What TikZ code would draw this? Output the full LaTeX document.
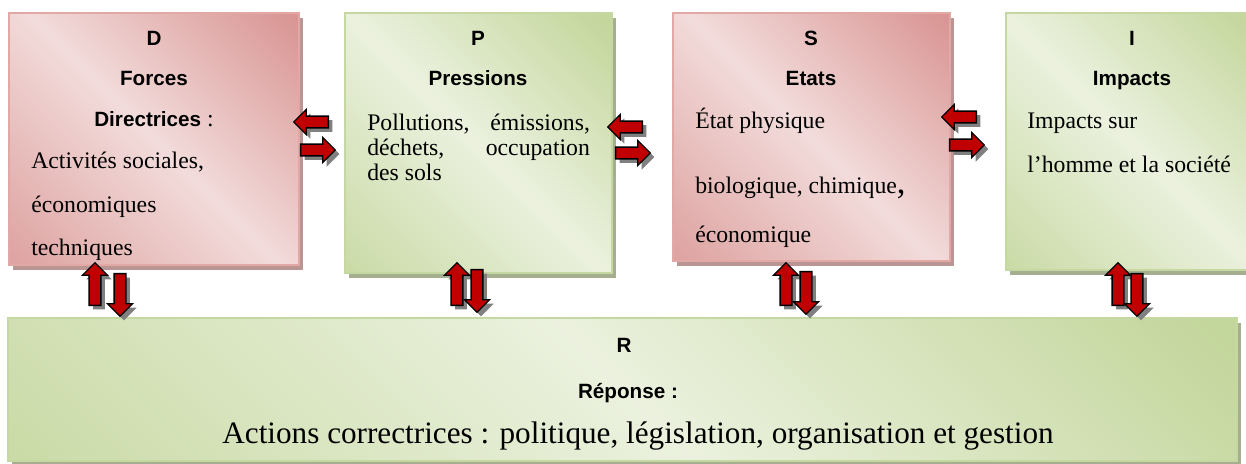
\documentclass[tikz,border=0pt]{standalone}
\usepackage{fontspec}
\setmainfont{Liberation Serif}
\setsansfont{Liberation Sans}
\usetikzlibrary{shapes.arrows,shadows,fit}
\definecolor{redL}{HTML}{F2DCDB}
\definecolor{redD}{HTML}{D99694}
\definecolor{redB}{HTML}{E2A8A6}
\definecolor{redS}{HTML}{B99594}
\definecolor{grnL}{HTML}{EBF1DE}
\definecolor{grnD}{HTML}{C3D69B}
\definecolor{grnB}{HTML}{C6D8A2}
\definecolor{grnS}{HTML}{A5AF90}
\definecolor{arrC}{HTML}{C00000}
\pgfdeclarehorizontalshading{redShade}{100bp}{color(0bp)=(redD); color(16bp)=(redD!80!redL); color(50bp)=(redL); color(84bp)=(redD); color(100bp)=(redD)}
\pgfdeclarehorizontalshading{grnShade}{100bp}{color(0bp)=(grnD); color(16bp)=(grnD!80!grnL); color(50bp)=(grnL); color(84bp)=(grnD); color(100bp)=(grnD)}
\newcommand\bdyfont{\rmfamily\mdseries\fontsize{17.8}{20}\selectfont}
\tikzset{
  redbox/.style={draw=redB, line width=1.2pt, shading=redShade, shading angle=45, inner sep=0pt,
    drop shadow={shadow xshift=3pt, shadow yshift=-3.5pt, fill=redS, opacity=1}},
  grnbox/.style={draw=grnB, line width=1.2pt, shading=grnShade, shading angle=45, inner sep=0pt,
    drop shadow={shadow xshift=3pt, shadow yshift=-3.5pt, fill=grnS, opacity=1}},
  ttl/.style={font=\sffamily\bfseries\fontsize{15.5}{18}\selectfont, anchor=base, inner sep=0pt},
  bdy/.style={font=\bdyfont, anchor=base west, inner sep=0pt},
  blk/.style={single arrow, draw=black, line width=1pt, fill=arrC, inner sep=3.9pt,
    single arrow head extend=5pt, single arrow head indent=0pt,
    drop shadow={shadow xshift=3pt, shadow yshift=-3pt, fill=gray, opacity=1}},
  blkH/.style={blk, minimum height=26pt},
  blkV/.style={blk, minimum height=32pt},
}
\begin{document}
\begin{tikzpicture}[x=0.75pt,y=-0.75pt]
  \useasboundingbox (0,0) rectangle (1246,464);
  % boxes
  \node[redbox, fit={(9,13) (299,265)}] (D) {};
  \node[grnbox, fit={(345,13) (612,273)}] (P) {};
  \node[redbox, fit={(673,13) (950,261)}] (S) {};
  \node[grnbox, fit={(1006,13) (1258,270)}] (I) {};
  \node[grnbox, fit={(8,318) (1237,461)}] (R) {};
  % D
  \node[ttl] (D1) at (154,45) {D};
  \node[ttl] (D2) at (154,85) {Forces};
  \node[ttl] (D3) at (154,126) {Directrices{\bdyfont{} :}};
  \node[bdy] (D4) at (31,168) {Activités sociales,};
  \node[bdy] (D5) at (31,212) {économiques};
  \node[bdy] (D6) at (31,255) {techniques};
  % P
  \node[ttl] (P1) at (478,45) {P};
  \node[ttl] (P2) at (478,85) {Pressions};
  \node[bdy] (P3) at (367,130) {\makebox[167pt][s]{Pollutions, émissions,}};
  \node[bdy] (P4) at (367,155) {\makebox[167pt][s]{déchets, occupation}};
  \node[bdy] (P5) at (367,180) {des sols};
  % S
  \node[ttl] (S1) at (811,45) {S};
  \node[ttl] (S2) at (811,85) {Etats};
  \node[bdy] (S3) at (695,128) {État physique};
  \node[bdy] (S4) at (695,193) {biologique, chimique{\fontsize{26}{26}\selectfont,}};
  \node[bdy] (S5) at (695,242) {économique};
  % I
  \node[ttl] (I1) at (1132,45) {I};
  \node[ttl] (I2) at (1132,85) {Impacts};
  \node[bdy] (I3) at (1027,128) {Impacts sur};
  \node[bdy] (I4) at (1027,172) {l’homme et la société};
  % R
  \node[ttl] (R1) at (624,352) {R};
  \node[ttl] (R2) at (628,398) {Réponse :};
  \node[ttl, font=\rmfamily\fontsize{23.4}{26}\selectfont] (R3) at (638,443)
    {Actions correctrices : politique, législation, organisation et gestion};
  % block arrows between boxes
  \node[blkH, shape border rotate=180] (DPl) at (314,122) {};
  \node[blkH] (DPr) at (315,150) {};
  \node[blkH, shape border rotate=180] (PSl) at (628,127) {};
  \node[blkH] (PSr) at (630,153) {};
  \node[blkH, shape border rotate=180] (SIl) at (962,117) {};
  \node[blkH] (SIr) at (964,145) {};
  % block arrows to R
  \node[blkV, shape border rotate=90] (DRu) at (95,287) {};
  \node[blkV, shape border rotate=270] (DRd) at (120,292) {};
  \node[blkV, shape border rotate=90] (PRu) at (457,287) {};
  \node[blkV, shape border rotate=270] (PRd) at (477,288) {};
  \node[blkV, shape border rotate=90] (SRu) at (786,287) {};
  \node[blkV, shape border rotate=270] (SRd) at (806,290) {};
  \node[blkV, shape border rotate=90] (IRu) at (1118,287) {};
  \node[blkV, shape border rotate=270] (IRd) at (1137,292) {};
\end{tikzpicture}
\end{document}
